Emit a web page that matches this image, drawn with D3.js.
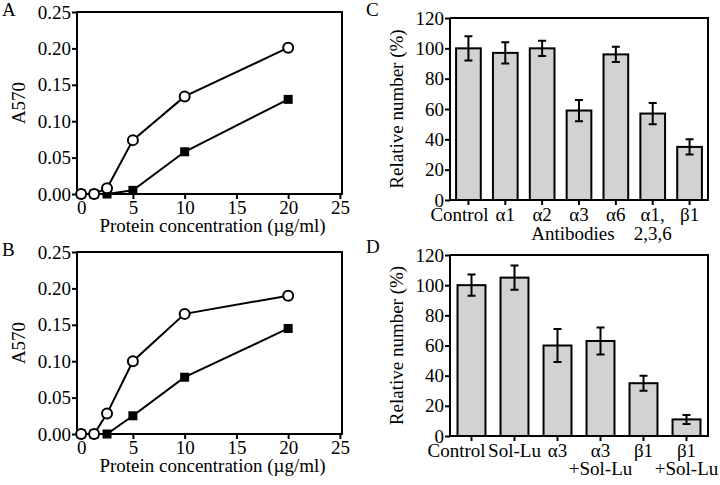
<!DOCTYPE html>
<html><head><meta charset="utf-8">
<script src="https://cdn.jsdelivr.net/npm/d3@7"></script>
<style>
body{margin:0;background:#fff;}
svg{display:block;}
text{font-family:"Liberation Serif","DejaVu Serif",serif;fill:#000;}
</style></head>
<body><svg id="c" width="720" height="485"></svg>
<script>
// ---- data ----
const concX = [0, 1.25, 2.5, 5, 10, 20];
const aCircle = [0, 0, 0.008, 0.074, 0.134, 0.201];
const aSquare = [0, 0, 0, 0.005, 0.058, 0.130];
const bCircle = [0, 0, 0.028, 0.100, 0.165, 0.190];
const bSquare = [0, 0, 0, 0.025, 0.078, 0.145];
const lineYTicks = [0, 0.05, 0.10, 0.15, 0.20, 0.25];
const lineXTicks = [0, 5, 10, 15, 20, 25];

const cCats = ["Control", "α1", "α2", "α3", "α6", "α1,", "β1"];
const cCats2 = ["", "", "", "", "", "2,3,6", ""];
const cVals = [100, 97, 100, 59, 96, 57, 35];
const cErr = [8, 7, 5, 7, 5, 7, 5];

const dCats = ["Control", "Sol-Lu", "α3", "α3", "β1", "β1"];
const dCats2 = ["", "", "", "+Sol-Lu", "", "+Sol-Lu"];
const dVals = [100, 105, 60, 63, 35, 11];
const dErr = [7, 8, 11, 9, 5, 3];
const barYTicks = [0, 20, 40, 60, 80, 100, 120];

const svg = d3.select("#c");
const FS = 19;

function styleAxis(a) {
  a.select(".domain").remove();
  a.selectAll("line").attr("stroke", "#000").attr("stroke-width", 2);
  a.selectAll("text").style("font-size", FS + "px").style("font-family", '"Liberation Serif",serif');
}

function linePanel(letter, top, bottom, circ, sq) {
  const left = 77, right = 342;
  const g = svg.append("g");
  const x = d3.scaleLinear().domain([-0.4, 25.2]).range([left, right]);
  const y = d3.scaleLinear().domain([0, 0.25]).range([bottom, top]);
  g.append("rect").attr("x", left).attr("y", top).attr("width", right - left).attr("height", bottom - top)
    .attr("fill", "none").attr("stroke", "#000").attr("stroke-width", 2);
  const ya = g.append("g").attr("transform", `translate(${left},0)`)
    .call(d3.axisLeft(y).tickValues(lineYTicks).tickFormat(d3.format(".2f")).tickSize(5).tickPadding(1));
  const xa = g.append("g").attr("transform", `translate(0,${bottom})`)
    .call(d3.axisBottom(x).tickValues(lineXTicks).tickSize(5).tickPadding(2));
  styleAxis(ya); styleAxis(xa);
  const ln = d3.line().x((d, i) => x(concX[i])).y(d => y(d));
  g.append("path").attr("d", ln(sq)).attr("fill", "none").attr("stroke", "#000").attr("stroke-width", 2);
  g.append("path").attr("d", ln(circ)).attr("fill", "none").attr("stroke", "#000").attr("stroke-width", 2);
  g.selectAll(".sq").data(sq).enter().append("rect")
    .attr("x", (d, i) => x(concX[i]) - 4.5).attr("y", d => y(d) - 4.5)
    .attr("width", 9).attr("height", 9).attr("fill", "#000");
  g.selectAll(".ci").data(circ).enter().append("circle")
    .attr("cx", (d, i) => x(concX[i])).attr("cy", d => y(d)).attr("r", 5)
    .attr("fill", "#fff").attr("stroke", "#000").attr("stroke-width", 2);
  g.append("text").attr("x", (left + right) / 2 + 3).attr("y", bottom + 38)
    .attr("text-anchor", "middle").style("font-size", FS + "px").text("Protein concentration (µg/ml)");
  g.append("text").attr("transform", `translate(25,${(top + bottom) / 2}) rotate(-90)`)
    .attr("text-anchor", "middle").style("font-size", FS + "px").text("A570");
  g.append("text").attr("x", 2).attr("y", top + 4).style("font-size", FS + "px").text(letter);
}

function barPanel(letter, top, bottom, cats, cats2, vals, errs, pad, firstShift, l1, l2) {
  const left = 450, right = 708;
  const g = svg.append("g");
  const x = d3.scaleBand().domain(cats.map((c, i) => i)).range([left, right]).paddingInner(pad).paddingOuter(pad / 2);
  const y = d3.scaleLinear().domain([0, 120]).range([bottom, top]);
  g.selectAll(".bar").data(vals).enter().append("rect")
    .attr("x", (d, i) => x(i)).attr("y", d => y(d)).attr("width", x.bandwidth()).attr("height", d => bottom - y(d))
    .attr("fill", "#d2d2d2").attr("stroke", "#000").attr("stroke-width", 2);
  g.selectAll(".err").data(vals).enter().append("path")
    .attr("d", (d, i) => {
      const cx = x(i) + x.bandwidth() / 2, hi = y(d + errs[i]), lo = y(d - errs[i]);
      return `M${cx - 4},${hi}H${cx + 4}M${cx},${hi}V${lo}M${cx - 4},${lo}H${cx + 4}`;
    })
    .attr("fill", "none").attr("stroke", "#000").attr("stroke-width", 2);
  g.append("path").attr("d", `M${left},${top}V${bottom}H${right}V${top}H${left}`)
    .attr("fill", "none").attr("stroke", "#000").attr("stroke-width", 2);
  const ya = g.append("g").attr("transform", `translate(${left},0)`)
    .call(d3.axisLeft(y).tickValues(barYTicks).tickSize(5).tickPadding(1));
  const xa = g.append("g").attr("transform", `translate(0,${bottom})`)
    .call(d3.axisBottom(x).tickFormat(() => "").tickSize(5));
  styleAxis(ya); styleAxis(xa);
  g.selectAll(".l1").data(cats).enter().append("text")
    .attr("x", (d, i) => x(i) + x.bandwidth() / 2 + (i === 0 ? firstShift : 0)).attr("y", bottom + l1)
    .attr("text-anchor", "middle").style("font-size", FS + "px").text(d => d);
  g.selectAll(".l2").data(cats2).enter().append("text")
    .attr("x", (d, i) => x(i) + x.bandwidth() / 2).attr("y", bottom + l2)
    .attr("text-anchor", "middle").style("font-size", FS + "px").text(d => d);
  g.append("text").attr("transform", `translate(403,${(top + bottom) / 2}) rotate(-90)`)
    .attr("text-anchor", "middle").style("font-size", FS + "px").text("Relative number (%)");
  g.append("text").attr("x", 366).attr("y", top - 2).style("font-size", FS + "px").text(letter);
  return g;
}

linePanel("A", 12, 194, aCircle, aSquare);
linePanel("B", 252, 434, bCircle, bSquare);
const gc = barPanel("C", 18, 200, cCats, cCats2, cVals, cErr, 0.33, -9, 21, 40);
gc.append("text").attr("x", 573).attr("y", 240).attr("text-anchor", "middle").style("font-size", FS + "px").text("Antibodies");
barPanel("D", 255, 436, dCats, dCats2, dVals, dErr, 0.35, -15, 21, 39);
</script></body></html>
